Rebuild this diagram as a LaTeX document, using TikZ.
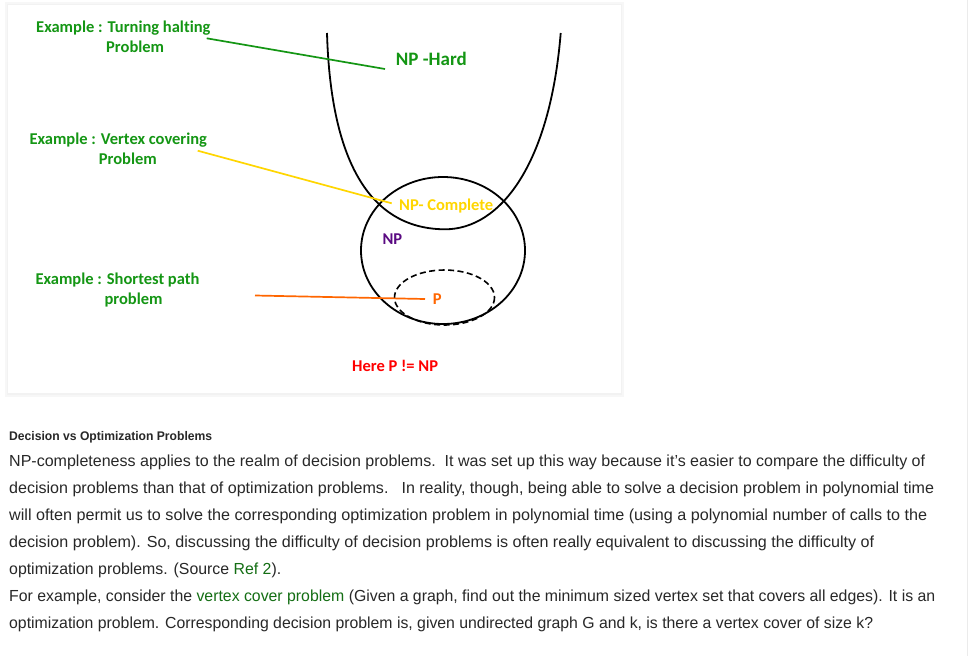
\documentclass[tikz,border=0pt]{standalone}
\usepackage{fontspec}
\usepackage{graphicx}
\setmainfont{Liberation Sans}
\newfontfamily\calibrifont[Ligatures=NoCommon]{Carlito}
\newfontfamily\bodyfont{Liberation Sans}
\definecolor{labelgreen}{RGB}{20,150,20}
\definecolor{npyellow}{RGB}{255,214,0}
\definecolor{porange}{RGB}{255,102,0}
\definecolor{nppurple}{RGB}{90,10,130}
\definecolor{herered}{RGB}{255,0,0}
\definecolor{bodygray}{RGB}{40,40,40}
\definecolor{linkgreen}{RGB}{20,110,20}
\tikzset{
  lbl/.style={font=\calibrifont\bfseries\fontsize{16.5}{18}\selectfont, inner sep=0pt, anchor=base west},
  bodytext/.style={font=\bodyfont\fontsize{16}{18}\selectfont, text=bodygray, inner sep=0pt, anchor=base west},
  setline/.style={line width=1.8pt, black},
  pointer/.style={line width=1.7pt},
}
\newcommand{\fitline}[2]{\resizebox{#1pt}{\height}{#2}}
\begin{document}
\begin{tikzpicture}[x=1pt,y=-1pt]
\useasboundingbox (0,0) rectangle (968,656);
\fill[white] (0,0) rectangle (968,656);
% panel with soft shadow
\fill[black!3] (5,2) rectangle (624,397);
\fill[black!5] (7,4) rectangle (622,395);
\fill[white] (8,5) rectangle (621,393);
\draw[black!8, line width=1pt] (967.5,0) -- (967.5,656);

% sets
\draw[setline] (327,33) .. controls (331,170) and (375,229) .. (445,229.3)
               .. controls (500,229.3) and (550,165) .. (560.7,33);
\draw[setline] (443,250.5) ellipse [x radius=82, y radius=73.5];
\draw[setline, line width=1.6pt, dash pattern=on 6pt off 3.5pt] (444.5,297.5) ellipse [x radius=50, y radius=27.5];

% labels
\node[lbl, text=labelgreen] (ex1a) at (36,32.3) {Example : Turning halting};
\node[lbl, text=labelgreen] (ex1b) at (106,52.3) {Problem};
\node[lbl, text=labelgreen] (ex2a) at (29.3,144) {Example : Vertex covering};
\node[lbl, text=labelgreen] (ex2b) at (98.7,164) {Problem};
\node[lbl, text=labelgreen] (ex3a) at (35.3,284) {Example : Shortest path};
\node[lbl, text=labelgreen] (ex3b) at (104.3,304) {problem};
\node[lbl, text=labelgreen, font=\calibrifont\bfseries\fontsize{19}{21}\selectfont] (nphard) at (395.7,65) {NP -Hard};
\node[lbl, text=npyellow] (npc) at (399,210) {NP- Complete};
\node[lbl, text=nppurple] (np) at (382.3,244) {NP};
\node[lbl, text=porange] (p) at (432.7,304.5) {P};
\node[lbl, text=herered] (here) at (352,371) {Here P != NP};

% pointers
\coordinate (g1) at (206.7,38.3);
\coordinate (g2) at (385,69);
\coordinate (y1) at (197.7,150.7);
\coordinate (y2) at (391.7,203.3);
\coordinate (o1) at (255,295.5);
\coordinate (o2) at (425,299);
\draw[pointer, labelgreen] (g1) -- (g2);
\draw[pointer, npyellow] (y1) -- (y2);
\draw[pointer, porange] (o1) -- (o2);

% text below
\node[bodytext, font=\bodyfont\bfseries\fontsize{12.5}{14}\selectfont] (head) at (9,440)
  {\fitline{203}{Decision vs Optimization Problems}};
\node[bodytext] (l1) at (9,466.8) {\fitline{916}{NP-completeness applies to the realm of decision problems.\ \ It was set up this way because it’s easier to compare the difficulty of}};
\node[bodytext] (l2) at (9,493.7) {\fitline{925}{decision problems than that of optimization problems.\hspace{13pt}In reality, though, being able to solve a decision problem in polynomial time}};
\node[bodytext] (l3) at (9,520.6) {\fitline{918}{will often permit us to solve the corresponding optimization problem in polynomial time (using a polynomial number of calls to the}};
\node[bodytext] (l4) at (9,547.6) {\fitline{865}{decision problem). So, discussing the difficulty of decision problems is often really equivalent to discussing the difficulty of}};
\node[bodytext] (l5) at (9,574.5) {\fitline{272}{optimization problems. (Source \textcolor{linkgreen}{Ref 2}).}};
\node[bodytext] (l6) at (9,601.4) {\fitline{926}{For example, consider the \textcolor{linkgreen}{vertex cover problem} (Given a graph, find out the minimum sized vertex set that covers all edges). It is an}};
\node[bodytext] (l7) at (9,628.3) {\fitline{864}{optimization problem. Corresponding decision problem is, given undirected graph G and k, is there a vertex cover of size k?}};
\end{tikzpicture}
\end{document}
